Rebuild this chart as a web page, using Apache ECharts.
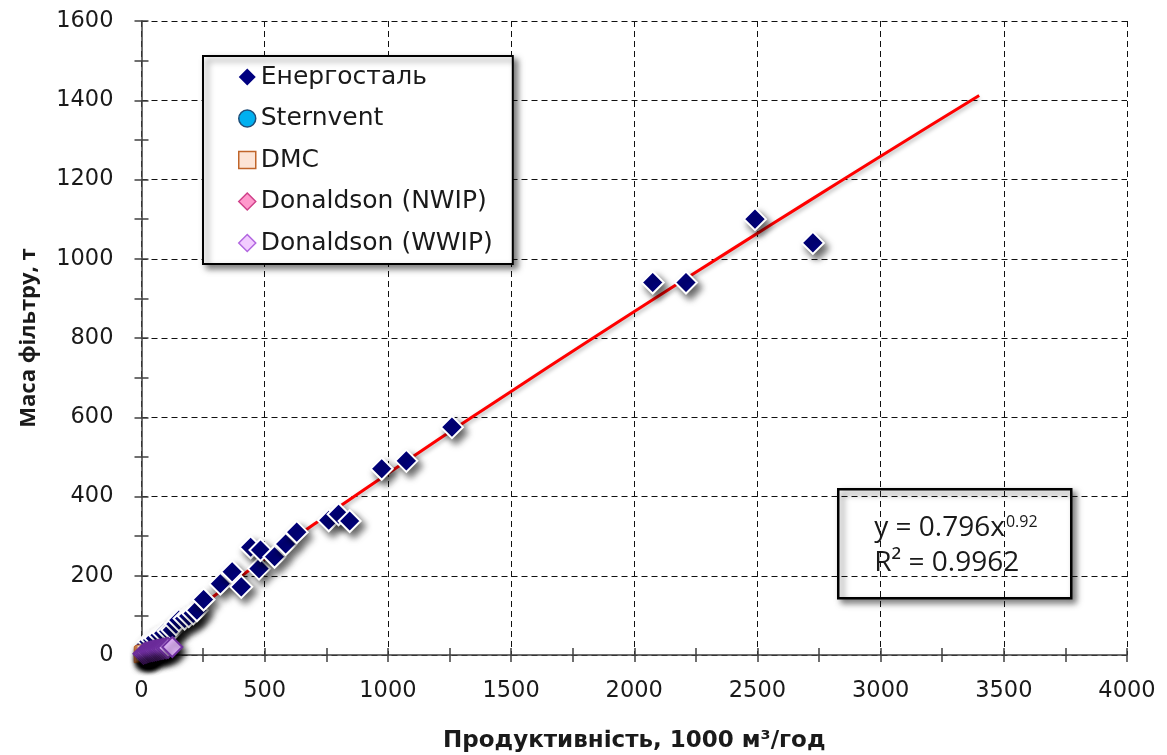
<!DOCTYPE html>
<html>
<head>
<meta charset="utf-8">
<script src="https://cdn.jsdelivr.net/npm/echarts@6/dist/echarts.min.js"></script>
<style>
  html, body { margin: 0; padding: 0; background: #fff; }
  #chart { width: 1167px; height: 755px; }
</style>
</head>
<body>
<div id="chart"></div>
<script>
// Filter mass vs. capacity, [capacity (1000 m3/h), mass (t)]
const energostal = [
  [12, 22], [30, 34], [45, 38], [57, 42], [75, 50], [90, 55], [110, 60], [125, 63],
  [140, 78], [152, 88], [175, 92], [192, 98], [210, 105], [225, 113],
  [252, 140], [320, 180], [368, 210], [405, 172], [443, 272], [477, 218],
  [483, 265], [540, 248], [585, 280], [630, 310], [760, 340], [800, 355],
  [845, 338], [975, 470], [1075, 490], [1260, 575], [2075, 940], [2210, 940],
  [2490, 1100], [2725, 1040]
];
const sternvent = [[2, 1], [4, 2], [7, 3], [9, 4]];
const dmc = [[3, 1], [6, 3], [10, 4], [14, 5]];
const donaldsonNwip = [[5, 2], [10, 4], [18, 6], [25, 8]];
const donaldsonWwip = [[8, 3], [15, 5], [22, 6], [30, 8], [38, 9], [45, 10], [52, 11],
  [60, 12], [68, 13], [75, 14], [83, 15], [90, 16], [100, 17], [108, 18], [125, 20]];

// Power trend y = a * x^b and its fit quality
const trendCoef = 0.796;
const trendExp = 0.92;
const trendR2 = 0.9962;
const trendX = [2, 5, 10, 20, 40, 70, 100, 150, 200, 300, 400, 500, 700, 900, 1200,
  1500, 1800, 2100, 2400, 2700, 3000, 3200, 3400];

const xTicks = { min: 0, max: 4000, interval: 500 };
const yTicks = { min: 0, max: 1600, interval: 200 };

const seriesNames = ['Енергосталь', 'Sternvent', 'DMC', 'Donaldson (NWIP)', 'Donaldson (WWIP)'];
const xTitle = 'Продуктивність, 1000 м³/год';
const yTitle = 'Маса фільтру, т';

const WIDE = '"DejaVu Sans", sans-serif';
const FONT = '"Open Sans", sans-serif';
const TEXT = '#1a1a1a';
const AXIS = '#404040';
const shadow = { shadowBlur: 7, shadowOffsetX: 4, shadowOffsetY: 5, shadowColor: 'rgba(0,0,0,0.6)' };

const trendData = trendX.map(x => [x, trendCoef * Math.pow(x, trendExp)]);

const tickLabel = { fontFamily: WIDE, fontSize: 22.5, color: TEXT, formatter: v => String(v) };

function mainAxis(extra) {
  return Object.assign({
    type: 'value',
    axisLine: { show: true, onZero: false, lineStyle: { color: AXIS, width: 1.5 } },
    axisTick: { show: true, length: 7, lineStyle: { color: AXIS, width: 1.5 } },
    minorTick: { show: true, splitNumber: 2, length: 7, lineStyle: { color: AXIS, width: 1.5 } },
    splitLine: { show: true, lineStyle: { color: '#111', width: 1, type: [6, 4] } },
    minorSplitLine: { show: false },
    nameLocation: 'middle',
    nameMoveOverlap: false
  }, extra);
}
// Mirror axis that adds the inner half of each crossing tick
function innerTicks(extra) {
  return Object.assign({
    type: 'value',
    axisLine: { show: false },
    axisTick: { show: true, inside: true, length: 7, lineStyle: { color: AXIS, width: 1.5 } },
    minorTick: { show: true, splitNumber: 2, length: 7, lineStyle: { color: AXIS, width: 1.5 } },
    splitLine: { show: false },
    axisLabel: { show: false }
  }, extra);
}

function scatter(name, data, size, symbol, fill, border, borderWidth, z) {
  return {
    name, type: 'scatter', data, symbol, symbolSize: size, z,
    itemStyle: Object.assign({ color: fill, borderColor: border, borderWidth, opacity: 1 }, shadow),
    emphasis: { disabled: true }
  };
}

const chart = echarts.init(document.getElementById('chart'), null, { renderer: 'canvas' });

chart.setOption({
  animation: false,
  backgroundColor: '#fff',
  grid: { left: 141.5, right: 40, top: 21, bottom: 100, containLabel: false, outerBoundsMode: 'none' },
  xAxis: [
    mainAxis(Object.assign({ position: 'bottom', name: xTitle, nameGap: 75,
      nameTextStyle: { fontFamily: WIDE, fontSize: 23, fontWeight: 'bold', color: TEXT },
      axisLabel: Object.assign({ margin: 25 }, tickLabel) }, xTicks)),
    innerTicks(Object.assign({ position: 'bottom' }, xTicks))
  ],
  yAxis: [
    mainAxis(Object.assign({ position: 'left', name: yTitle, nameGap: 102,
      nameTextStyle: { fontFamily: FONT, fontSize: 22, fontWeight: 'bold', color: TEXT },
      axisLabel: Object.assign({ margin: 28 }, tickLabel) }, yTicks)),
    innerTicks(Object.assign({ position: 'left' }, yTicks))
  ],
  legend: {
    orient: 'vertical',
    left: 203, top: 56,
    padding: [8, 20, 8, 35],
    itemGap: 15.5,
    itemWidth: 17, itemHeight: 17,
    backgroundColor: '#fff',
    borderColor: '#000', borderWidth: 2,
    shadowBlur: 6, shadowOffsetX: 4, shadowOffsetY: 4, shadowColor: 'rgba(0,0,0,0.5)',
    textStyle: { fontFamily: WIDE, fontSize: 25, color: TEXT, lineHeight: 26 },
    selectedMode: false,
    data: [
      { name: seriesNames[0], icon: 'diamond', itemStyle: { color: '#000080', borderWidth: 0, shadowColor: 'transparent' } },
      { name: seriesNames[1], icon: 'circle', itemStyle: { color: '#00B0F0', borderColor: '#1F4E79', borderWidth: 1.5, shadowColor: 'transparent' } },
      { name: seriesNames[2], icon: 'rect', itemStyle: { color: '#FCE4D6', borderColor: '#C0652A', borderWidth: 1.5, shadowColor: 'transparent' } },
      { name: seriesNames[3], icon: 'diamond', itemStyle: { color: '#FF99CC', borderColor: '#D0418A', borderWidth: 1.5, shadowColor: 'transparent' } },
      { name: seriesNames[4], icon: 'diamond', itemStyle: { color: '#F2CCFF', borderColor: '#B266E0', borderWidth: 1.5, shadowColor: 'transparent' } }
    ]
  },
  series: [
    {
      name: 'trend', type: 'line', data: trendData, showSymbol: false, smooth: true, z: 1,
      silent: true,
      lineStyle: { color: '#FF0000', width: 3, shadowBlur: 4, shadowOffsetY: 3, shadowColor: 'rgba(0,0,0,0.3)' }
    },
    scatter(seriesNames[0], energostal, 22, 'diamond', '#000080', '#fff', 2, 3),
    scatter(seriesNames[1], sternvent, 16, 'circle', '#00B0F0', '#1F4E79', 1, 4),
    scatter(seriesNames[2], dmc, 16, 'rect', '#FCE4D6', '#C0652A', 1, 5),
    scatter(seriesNames[3], donaldsonNwip, 18, 'diamond', '#FF99CC', '#D0418A', 1, 6),
    scatter(seriesNames[4], donaldsonWwip, 20, 'diamond', '#E6B8FF', '#7030A0', 2, 7)
  ],
  graphic: [{
    type: 'group', left: 837, top: 488, z: 100,
    children: [
      {
        type: 'rect', shape: { x: 0, y: 0, width: 233, height: 109 },
        style: { fill: '#fff', stroke: '#000', lineWidth: 2.5,
          shadowBlur: 6, shadowOffsetX: 4, shadowOffsetY: 4, shadowColor: 'rgba(0,0,0,0.5)' }
      },
      {
        type: 'text', x: 36, y: 21,
        style: {
          text: '{a|y = ' + trendCoef + 'x}{s|' + trendExp + '}\n{a|R² = ' + trendR2 + '}',
          fill: TEXT,
          rich: {
            a: { fontFamily: FONT, fontSize: 28, lineHeight: 35, fill: TEXT },
            s: { fontFamily: FONT, fontSize: 16, lineHeight: 35, fill: TEXT, verticalAlign: 'top', padding: [4, 0, 0, 1] }
          }
        }
      }
    ]
  }]
});
</script>
</body>
</html>
